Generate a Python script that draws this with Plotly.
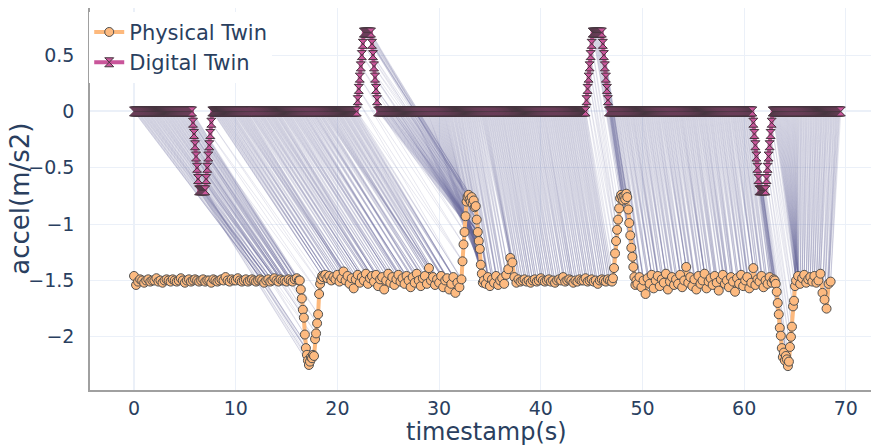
import numpy as np
import plotly.graph_objects as go

# ---------------- Physical Twin (segments: start time, step, values) ----------------
phys_flat1_t0, phys_flat1_dt = 0.0, 0.2
phys_flat1 = [-1.46, -1.54, -1.51, -1.49, -1.50, -1.52, -1.50, -1.49, -1.51, -1.50,
              -1.50, -1.48, -1.51, -1.50, -1.52, -1.50, -1.49, -1.50, -1.51, -1.49,
              -1.50, -1.51, -1.50, -1.48, -1.50, -1.52, -1.50, -1.49, -1.51, -1.50,
              -1.49, -1.50, -1.51, -1.50, -1.49, -1.51, -1.50, -1.50, -1.52, -1.49,
              -1.50, -1.51, -1.50, -1.49, -1.50, -1.47, -1.50, -1.51, -1.49, -1.50,
              -1.50, -1.48, -1.50, -1.51, -1.50, -1.49, -1.51, -1.50, -1.49, -1.50,
              -1.51, -1.50, -1.49, -1.50, -1.52, -1.50, -1.49, -1.51, -1.50, -1.48,
              -1.50, -1.51, -1.49, -1.50, -1.50, -1.51, -1.49, -1.50, -1.51, -1.49,
              -1.48, -1.50]

phys_dip1_t0, phys_dip1_dt = 16.3, 0.1
phys_dip1 = [-1.50, -1.58, -1.66, -1.76, -1.83, -1.98, -2.10, -2.16, -2.21, -2.25,
             -2.22, -2.18, -2.19, -2.16, -2.17, -2.02, -1.97, -1.88, -1.80, -1.62,
             -1.53, -1.49, -1.46]

phys_flat2_t0, phys_flat2_dt = 18.6, 0.2
phys_flat2 = [-1.47, -1.45, -1.48, -1.46, -1.50, -1.47, -1.49, -1.45, -1.51, -1.48,
              -1.42, -1.50, -1.46, -1.53, -1.48, -1.57, -1.49, -1.45, -1.52, -1.47,
              -1.50, -1.44, -1.53, -1.48, -1.46, -1.51, -1.45, -1.55, -1.49, -1.47,
              -1.58, -1.50, -1.44, -1.52, -1.47, -1.54, -1.49, -1.45, -1.51, -1.48,
              -1.53, -1.46, -1.50, -1.56, -1.47, -1.52, -1.44, -1.50, -1.55, -1.48,
              -1.46, -1.53, -1.39, -1.50, -1.47, -1.54, -1.49, -1.52, -1.46, -1.56,
              -1.50, -1.48, -1.58, -1.53, -1.47, -1.61, -1.52, -1.56, -1.49]

phys_peak1_t0, phys_peak1_dt = 32.3, 0.1
phys_peak1 = [-1.33, -1.18, -1.07, -0.93, -0.80, -0.76, -0.74, -0.78, -0.80, -0.76,
              -0.82, -0.79, -0.85, -0.84, -0.96, -1.07, -1.15, -1.22, -1.36, -1.44,
              -1.52]

phys_flat3_t0, phys_flat3_dt = 34.4, 0.2
phys_flat3 = [-1.50, -1.53, -1.47, -1.55, -1.49, -1.52, -1.46, -1.54, -1.50, -1.48,
              -1.53, -1.45, -1.40, -1.30, -1.34, -1.47, -1.52, -1.49, -1.51,
              -1.50, -1.49, -1.51, -1.50, -1.52, -1.50, -1.49, -1.51, -1.50, -1.48,
              -1.50, -1.51, -1.50, -1.49, -1.51, -1.50, -1.52, -1.50, -1.49, -1.50,
              -1.47, -1.51, -1.50, -1.49, -1.50, -1.52, -1.50, -1.51, -1.49, -1.50,
              -1.50, -1.48, -1.51, -1.50, -1.49, -1.51, -1.50, -1.53, -1.50, -1.49,
              -1.50, -1.51, -1.49, -1.50, -1.51]

phys_peak2_t0, phys_peak2_dt = 47.1, 0.1
phys_peak2 = [-1.48, -1.39, -1.26, -1.15, -1.05, -0.96, -0.86, -0.77, -0.74, -0.76,
              -0.79, -0.75, -0.78, -0.73, -0.76, -0.87, -0.99, -1.10, -1.21, -1.29,
              -1.38, -1.47, -1.54, -1.50]

phys_flat4_t0, phys_flat4_dt = 49.5, 0.2
phys_flat4 = [-1.53, -1.47, -1.56, -1.50, -1.62, -1.48, -1.53, -1.45, -1.57, -1.50,
              -1.46, -1.55, -1.49, -1.52, -1.44, -1.58, -1.51, -1.47, -1.54, -1.49,
              -1.53, -1.45, -1.56, -1.50, -1.38, -1.52, -1.47, -1.55, -1.49, -1.58,
              -1.46, -1.53, -1.50, -1.44, -1.57, -1.51, -1.48, -1.54, -1.46, -1.52,
              -1.59, -1.49, -1.45, -1.53, -1.50, -1.56, -1.47, -1.51, -1.60, -1.48,
              -1.53, -1.45, -1.55, -1.50, -1.47, -1.57, -1.52, -1.39, -1.54, -1.49,
              -1.51, -1.46, -1.56, -1.50, -1.53, -1.47, -1.52, -1.49]

phys_dip2_t0, phys_dip2_dt = 63.0, 0.1
phys_dip2 = [-1.50, -1.53, -1.60, -1.70, -1.80, -1.92, -1.99, -2.10, -2.18, -2.14,
             -2.21, -2.17, -2.20, -2.26, -2.22, -2.09, -2.00, -1.91, -1.73, -1.68,
             -1.55]

phys_flat5_t0, phys_flat5_dt = 65.1, 0.2
phys_flat5 = [-1.50, -1.46, -1.53, -1.48, -1.45, -1.52, -1.49, -1.47, -1.51, -1.46,
              -1.52, -1.50, -1.44, -1.61, -1.67, -1.75, -1.53, -1.51]

phys_segments = [
    (phys_flat1_t0, phys_flat1_dt, phys_flat1),
    (phys_dip1_t0, phys_dip1_dt, phys_dip1),
    (phys_flat2_t0, phys_flat2_dt, phys_flat2),
    (phys_peak1_t0, phys_peak1_dt, phys_peak1),
    (phys_flat3_t0, phys_flat3_dt, phys_flat3),
    (phys_peak2_t0, phys_peak2_dt, phys_peak2),
    (phys_flat4_t0, phys_flat4_dt, phys_flat4),
    (phys_dip2_t0, phys_dip2_dt, phys_dip2),
    (phys_flat5_t0, phys_flat5_dt, phys_flat5),
]

# ---------------- Digital Twin (sampled every 0.1 s from t = 0) ----------------
dig_dt = 0.1
dig_zero_a = [0.0] * 58
dig_dip1_down = [-0.1, -0.2, -0.3, -0.4, -0.5, -0.6, -0.7]
dig_dip1_bottom = [-0.7] * 6
dig_dip1_up = [-0.6, -0.5, -0.4, -0.3, -0.2, -0.1]
dig_zero_b = [0.0] * 143
dig_peak1_up = [0.1, 0.2, 0.3, 0.4, 0.5, 0.6, 0.7]
dig_peak1_top = [0.7] * 7
dig_peak1_down = [0.6, 0.5, 0.4, 0.3, 0.2, 0.1]
dig_zero_c = [0.0] * 205
dig_peak2_up = [0.1, 0.2, 0.3, 0.4, 0.5, 0.6, 0.7]
dig_peak2_top = [0.7] * 9
dig_peak2_down = [0.6, 0.5, 0.4, 0.3, 0.2, 0.1]
dig_zero_d = [0.0] * 142
dig_dip2_down = [-0.1, -0.2, -0.3, -0.4, -0.5, -0.6, -0.7]
dig_dip2_bottom = [-0.7] * 6
dig_dip2_up = [-0.6, -0.5, -0.4, -0.3, -0.2, -0.1]
dig_zero_e = [0.0] * 68

# ---------------- Alignment (digital time <-> physical time) landmarks ----------------
warp_dig = [0.0, 5.7, 6.4, 7.0, 7.7, 21.9, 22.6, 23.3, 24.0, 30.5, 32.0,
            44.4, 45.1, 46.0, 46.7, 60.8, 61.5, 62.1, 62.8, 65.5, 69.5]
warp_phys = [12.7, 16.3, 17.1, 17.7, 18.5, 32.2, 32.8, 33.6, 33.8, 34.2, 35.0,
             47.1, 47.8, 48.5, 49.4, 62.9, 63.8, 64.4, 65.1, 65.3, 68.5]

# ---------------- build arrays ----------------
phys_t = np.concatenate([np.round(t0 + dt * np.arange(len(v)), 2) for t0, dt, v in phys_segments])
phys_v = np.concatenate([np.array(v, dtype=float) for _, _, v in phys_segments])

dig_v = np.array(dig_zero_a + dig_dip1_down + dig_dip1_bottom + dig_dip1_up + dig_zero_b
                 + dig_peak1_up + dig_peak1_top + dig_peak1_down + dig_zero_c
                 + dig_peak2_up + dig_peak2_top + dig_peak2_down + dig_zero_d
                 + dig_dip2_down + dig_dip2_bottom + dig_dip2_up + dig_zero_e)
dig_t = np.round(np.arange(len(dig_v)) * dig_dt, 2)

pairs = set()
# each digital sample -> the physical samples around its aligned time
for i, m in enumerate(np.interp(dig_t, warp_dig, warp_phys)):
    j0 = int(np.clip(np.searchsorted(phys_t, m, side="right") - 1, 0, len(phys_t) - 1))
    pairs.add((i, j0))
    pairs.add((i, min(j0 + 1, len(phys_t) - 1)))
# each aligned physical sample -> its digital sample
for j, tp in enumerate(phys_t):
    if warp_phys[0] <= tp <= warp_phys[-1]:
        m = np.interp(tp, warp_phys, warp_dig)
        pairs.add((int(np.argmin(np.abs(dig_t - m))), j))

lx, ly = [], []
for i, j in sorted(pairs):
    lx += [dig_t[i], phys_t[j], None]
    ly += [dig_v[i], phys_v[j], None]

FONT = "DejaVu Sans"
TXT = "#2a3f5f"

fig = go.Figure()
fig.add_trace(go.Scatter(x=lx, y=ly, mode="lines", showlegend=False, hoverinfo="skip",
                         line=dict(color="rgba(105,105,155,0.16)", width=1)))
fig.add_trace(go.Scatter(x=phys_t, y=phys_v, mode="lines+markers", name="Physical Twin",
                         line=dict(color="#FDB97D", width=4),
                         marker=dict(symbol="circle", size=9, color="#FDBA80",
                                     line=dict(color="#505050", width=1))))
fig.add_trace(go.Scatter(x=dig_t, y=dig_v, mode="lines+markers", name="Digital Twin",
                         line=dict(color="#C9559A", width=4),
                         marker=dict(symbol="hourglass", size=9, color="#C9559A",
                                     line=dict(color="#46353F", width=1))))

fig.update_layout(
    template="plotly_white",
    width=871, height=448,
    margin=dict(l=90, r=0, t=8, b=58),
    paper_bgcolor="white", plot_bgcolor="white",
    font=dict(family=FONT, size=19, color=TXT),
    legend=dict(x=-0.001, y=0.99, xanchor="left", yanchor="top",
                bgcolor="white", font=dict(family=FONT, size=21, color=TXT)),
    xaxis=dict(range=[-4.33, 72.47], dtick=10, tick0=0, showline=True,
               linecolor="#a0a0a0", linewidth=1.5, gridcolor="#EBF0F8",
               ticks="", ticklen=0),
    yaxis=dict(range=[-2.472, 0.918], dtick=0.5, tick0=0, showline=True,
               linecolor="#a0a0a0", linewidth=1.5, gridcolor="#EBF0F8",
               ticks="outside", ticklen=10, tickcolor="rgba(0,0,0,0)"),
    annotations=[
        dict(text="timestamp(s)", xref="paper", yref="paper", x=0.508, y=-0.109,
             xanchor="center", yanchor="middle", showarrow=False,
             font=dict(family=FONT, size=24, color=TXT)),
        dict(text="accel(m/s2)", xref="paper", yref="paper", x=-0.09, y=0.5,
             xanchor="center", yanchor="middle", textangle=-90, showarrow=False,
             font=dict(family=FONT, size=26, color=TXT)),
    ],
)

fig.write_html("out.html")
